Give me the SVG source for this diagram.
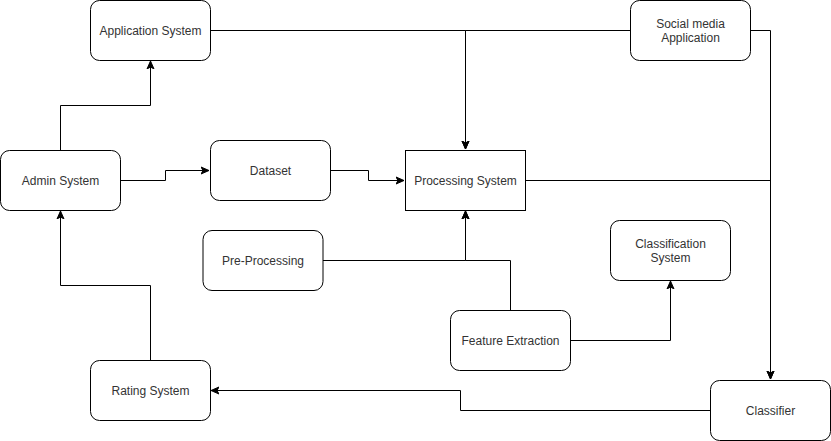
<svg xmlns="http://www.w3.org/2000/svg" width="831" height="441" viewBox="0 0 831 441">
<style>
.n{fill:#fff;stroke:#000;stroke-width:1}
.t{font-family:"Liberation Sans",Arial,sans-serif;font-size:12px;fill:#333;text-anchor:middle;dominant-baseline:central}
.c{fill:none;stroke:#000;stroke-width:1}
</style>
<defs>
<marker id="a" markerUnits="userSpaceOnUse" markerWidth="10" markerHeight="10" viewBox="0 0 10 10" refX="8" refY="5" orient="auto">
<path d="M0,1.5 L8,5 L0,8.5 L2,5 Z" fill="#000" stroke="#000" stroke-width="1"/>
</marker>
</defs>
<rect width="831" height="441" fill="#fff"/>
<g id="connectors">
<path class="c" d="M60.5,150 V105.5 H150.5 V61" marker-end="url(#a)"/>
<path class="c" d="M120,180.5 H165.5 V170.5 H209" marker-end="url(#a)"/>
<path class="c" d="M330,170.5 H368.5 V180.5 H404" marker-end="url(#a)"/>
<path class="c" d="M210,30.5 H465.5 V149" marker-end="url(#a)"/>
<path class="c" d="M630,30.5 H465.5 V149" marker-end="url(#a)"/>
<path class="c" d="M750,30.5 H770.5 V379" marker-end="url(#a)"/>
<path class="c" d="M525,180.5 H770.5 V379" marker-end="url(#a)"/>
<path class="c" d="M323,260.5 H465.5 V211" marker-end="url(#a)"/>
<path class="c" d="M510.5,310 V260.5 H465.5 V211" marker-end="url(#a)"/>
<path class="c" d="M570,340.5 H670.5 V281" marker-end="url(#a)"/>
<path class="c" d="M710,410.5 H460.5 V390.5 H211" marker-end="url(#a)"/>
<path class="c" d="M150.5,360 V285.5 H60.5 V211" marker-end="url(#a)"/>
</g>
<g id="application-system"><rect class="n" x="90.5" y="0.5" width="120" height="60" rx="9"/><text class="t" x="150.5" y="30.5">Application System</text></g>
<g id="social-media-application"><rect class="n" x="630.5" y="0.5" width="120" height="60" rx="9"/><text class="t" x="690.5" y="23.5">Social media</text><text class="t" x="690.5" y="37.5">Application</text></g>
<g id="admin-system"><rect class="n" x="0.5" y="150.5" width="120" height="60" rx="9"/><text class="t" x="60.5" y="180.5">Admin System</text></g>
<g id="dataset"><rect class="n" x="210.5" y="140.5" width="120" height="60" rx="9"/><text class="t" x="270.5" y="170.5">Dataset</text></g>
<g id="processing-system"><rect class="n" x="405.5" y="150.5" width="120" height="60"/><text class="t" x="465.5" y="180.5">Processing System</text></g>
<g id="pre-processing"><rect class="n" x="203" y="230.5" width="120" height="60" rx="9"/><text class="t" x="263" y="260.5">Pre-Processing</text></g>
<g id="classification-system"><rect class="n" x="610.5" y="220.5" width="120" height="60" rx="9"/><text class="t" x="670.5" y="243.5">Classification</text><text class="t" x="670.5" y="257.5">System</text></g>
<g id="feature-extraction"><rect class="n" x="450.5" y="310.5" width="120" height="60" rx="9"/><text class="t" x="510.5" y="340.5">Feature Extraction</text></g>
<g id="rating-system"><rect class="n" x="90.5" y="360.5" width="120" height="60" rx="9"/><text class="t" x="150.5" y="390.5">Rating System</text></g>
<g id="classifier"><rect class="n" x="710.5" y="380.5" width="120" height="60" rx="9"/><text class="t" x="770.5" y="410.5">Classifier</text></g>
</svg>
